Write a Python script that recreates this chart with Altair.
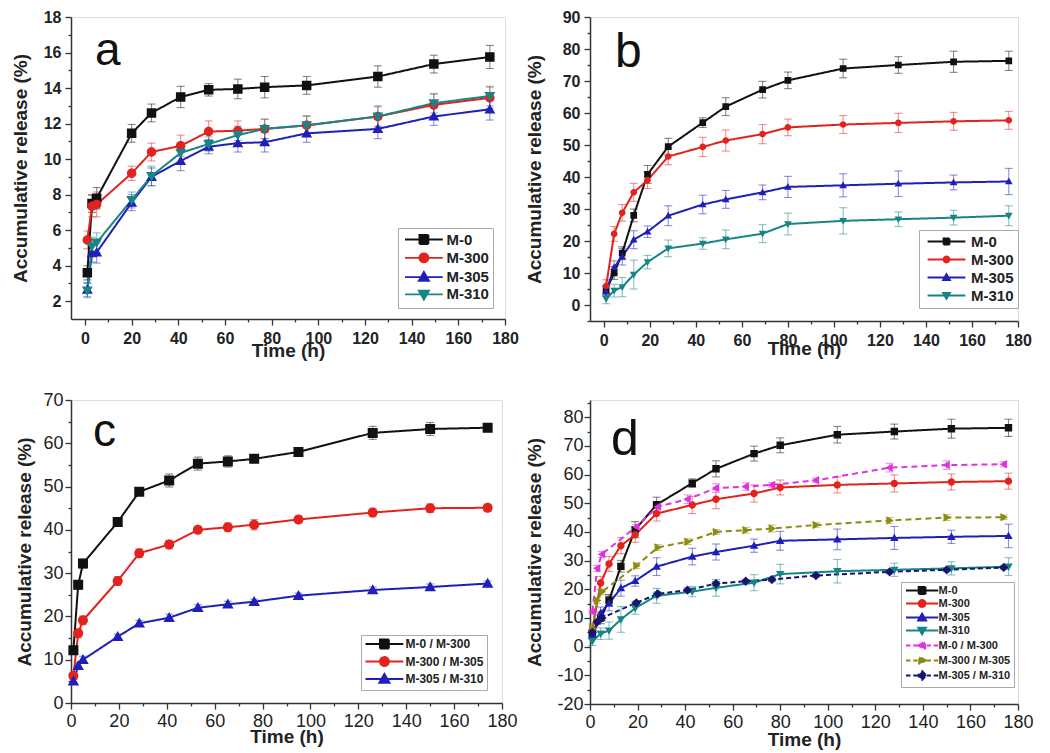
import altair as alt
import pandas as pd

FONT = "Liberation Sans"

# ---------------- data ----------------
names_single = ["M-0", "M-300", "M-305", "M-310"]
names_ratio = ["M-0 / M-300", "M-300 / M-305", "M-305 / M-310"]

# panel a
time_a = [1, 3, 5, 20, 28.5, 41, 53, 65.5, 77, 95, 125.5, 149.5, 173.5]
a_m0 = [3.6, 7.5, 7.8, 11.45, 12.6, 13.5, 13.9, 13.95, 14.05, 14.15, 14.65, 15.35, 15.75]
a_m300 = [5.45, 7.35, 7.45, 9.2, 10.4, 10.75, 11.55, 11.6, 11.7, 11.9, 12.4, 13.05, 13.45]
a_m305 = [2.65, 4.7, 4.75, 7.55, 9.0, 9.9, 10.7, 10.9, 10.95, 11.45, 11.7, 12.4, 12.8]
a_m310 = [2.6, 5.1, 5.3, 7.7, 9.05, 10.35, 10.85, 11.35, 11.7, 11.9, 12.4, 13.15, 13.55]
err_a_m0 = [0.4, 0.5, 0.6, 0.5, 0.5, 0.6, 0.35, 0.55, 0.6, 0.5, 0.6, 0.5, 0.65]
err_a_m300 = [0.5, 0.6, 0.7, 0.4, 0.5, 0.6, 0.6, 0.55, 0.55, 0.5, 0.55, 0.6, 0.6]
err_a_m305 = [0.4, 0.5, 0.6, 0.45, 0.5, 0.55, 0.4, 0.5, 0.55, 0.5, 0.55, 0.5, 0.6]
err_a_m310 = [0.4, 0.5, 0.55, 0.45, 0.55, 0.55, 0.4, 0.5, 0.55, 0.55, 0.6, 0.55, 0.55]

# panel b (also the solid series of panel d)
time_b = [1, 4.5, 8, 13, 19, 28, 43, 53, 69, 80, 104, 128, 152, 176]
b_m0 = [4.5, 10, 16.2, 28, 40.8, 49.5, 57, 62, 67.3, 70.2, 73.9, 75, 76, 76.3]
b_m300 = [5.9, 22.2, 28.8, 35.2, 39, 46.4, 49.4, 51.4, 53.4, 55.5, 56.4, 56.9, 57.4, 57.7]
b_m305 = [4.2, 11.8, 15.1, 20.4, 22.9, 27.9, 31.4, 33, 35.2, 36.9, 37.4, 37.9, 38.3, 38.6]
b_m310 = [1.9, 4.5, 5.6, 9.5, 13.4, 17.7, 19.2, 20.5, 22.3, 25.3, 26.3, 26.8, 27.3, 27.9]
err_b_m0 = [1.5, 2.0, 2.0, 2.0, 2.8, 2.6, 1.5, 2.8, 2.6, 2.6, 2.9, 2.6, 3.3, 3.0]
err_b_m300 = [2.0, 2.3, 2.6, 2.8, 2.6, 2.6, 3.0, 3.3, 3.0, 2.6, 2.8, 3.0, 2.8, 2.8]
err_b_m305 = [1.5, 2.0, 2.6, 2.8, 1.8, 3.1, 2.9, 2.8, 2.3, 3.3, 3.6, 4.0, 2.3, 4.1]
err_b_m310 = [1.5, 2.0, 3.0, 4.5, 2.1, 2.6, 1.8, 2.9, 2.8, 3.4, 4.1, 2.3, 2.3, 3.1]

# panel c (also the dashed series of panel d)
time_c = [1, 3, 5, 19.5, 28.5, 41, 53, 65.5, 76.5, 95, 126, 150, 174]
c_m0_300 = [12.2, 27.3, 32.2, 41.8, 48.8, 51.4, 55.3, 55.8, 56.4, 58.0, 62.4, 63.3, 63.6]
c_m300_305 = [6.3, 16.1, 19.1, 28.2, 34.6, 36.6, 40.0, 40.6, 41.2, 42.4, 44.0, 45.0, 45.1]
c_m305_310 = [5.0, 8.6, 10.0, 15.3, 18.4, 19.7, 22.0, 22.8, 23.4, 24.8, 26.1, 26.8, 27.6]
err_c_m0_300 = [0.8, 1.0, 1.0, 0.8, 0.8, 1.5, 1.5, 1.3, 0.8, 0.8, 1.5, 1.5, 0.9]
err_c_m300_305 = [0.8, 1.0, 1.0, 1.0, 1.0, 1.0, 0.8, 1.0, 1.2, 0.8, 1.0, 1.0, 0.8]
err_c_m305_310 = [0.6, 0.8, 0.8, 0.6, 0.7, 0.8, 0.7, 0.7, 0.6, 0.6, 0.7, 0.7, 0.6]

# ---------------- styles ----------------
BLACK, RED, BLUE, TEAL = "#111111", "#e2231d", "#2020b8", "#178585"
MAGENTA, OLIVE, NAVY = "#e033e0", "#8c8c10", "#16166e"
MARK = {"square": "M-1,-1L1,-1L1,1L-1,1Z",
        "circle": "M1,0A1,1,0,1,1,-1,0A1,1,0,1,1,1,0Z",
        "tri-up": "M0,-1.15L1.15,0.85L-1.15,0.85Z",
        "tri-down": "M0,1.15L1.15,-0.85L-1.15,-0.85Z",
        "tri-left": "M-1.15,0L0.85,-1.15L0.85,1.15Z",
        "tri-right": "M1.15,0L-0.85,-1.15L-0.85,1.15Z",
        "diamond": "M0,-1.25L1.25,0L0,1.25L-1.25,0Z"}


def long_df(times, names, values, errors):
    rows = []
    for name, vals, errs in zip(names, values, errors):
        for t, v, e in zip(times, vals, errs):
            rows.append({"series": name, "t": t, "v": v, "lo": v - e, "hi": v + e})
    return pd.DataFrame(rows)


df_a = long_df(time_a, names_single, [a_m0, a_m300, a_m305, a_m310],
               [err_a_m0, err_a_m300, err_a_m305, err_a_m310])
df_b = long_df(time_b, names_single, [b_m0, b_m300, b_m305, b_m310],
               [err_b_m0, err_b_m300, err_b_m305, err_b_m310])
df_c = long_df(time_c, names_ratio, [c_m0_300, c_m300_305, c_m305_310],
               [err_c_m0_300, err_c_m300_305, err_c_m305_310])
df_d = pd.concat([df_b, df_c], ignore_index=True)


def sym(marker, L, dashed=False):
    if dashed:
        line = (f"M{-L},0L{-0.72*L},0M{-0.55*L},0L{-0.28*L},0"
                f"M{0.28*L},0L{0.55*L},0M{0.72*L},0L{L},0")
    else:
        line = f"M{-L},0L{L},0"
    return line + MARK[marker]


def axis(title, values, major, cfg, which):
    return alt.Axis(
        title=title, values=values,
        labelExpr=f"datum.value % {major} === 0 ? '' + datum.value : ''",
        tickSize={"condition": {"test": f"datum.value % {major} !== 0", "value": 3}, "value": 6},
        tickColor="#333", tickWidth=1.3, domainColor="#333", domainWidth=1.5,
        grid=False, labelOverlap=False, labelFlush=False,
        labelFont=FONT, labelFontSize=cfg["lsize"], labelFontWeight=cfg["lweight"],
        labelColor="#222", labelPadding=cfg[which + "lp"],
        titleFont=FONT, titleFontSize=19, titleFontWeight="bold", titleColor="#222",
        titlePadding=cfg[which + "tp"])


def panel(df, names, cols, shapes, dashes, cfg):
    xs = alt.Scale(domain=cfg["xdom"], nice=False, zero=False)
    ys = alt.Scale(domain=cfg["ydom"], nice=False, zero=False)
    xa = axis("Time (h)", cfg["xvals"], cfg["xmajor"], cfg, "x")
    ya = axis("Accumulative release (%)", cfg["yvals"], cfg["ymajor"], cfg, "y")
    color_plain = alt.Color("series:N", scale=alt.Scale(domain=names, range=cols))
    leg = alt.Legend(orient="none", legendX=cfg["legx"], legendY=cfg["legy"], title=None,
                     symbolSize=cfg["ssize"], symbolStrokeWidth=1.8, symbolOpacity=1,
                     symbolOffset=cfg["soff"], labelOffset=cfg["loff"],
                     labelFont=FONT, labelFontSize=cfg["legfs"], labelFontWeight="bold",
                     labelColor="#222", strokeColor="#aaa", fillColor="white",
                     padding=cfg["legpad"], rowPadding=cfg["rowpad"])
    base = alt.Chart(df)
    err = base.mark_rule(strokeWidth=1.1, opacity=1).encode(
        x=alt.X("t:Q", scale=xs, axis=xa), y=alt.Y("lo:Q", scale=ys, axis=ya),
        y2="hi:Q", color=color_plain, strokeOpacity=alt.value(0.5))
    cap_lo = base.mark_tick(orient="horizontal", size=8, thickness=1.1, opacity=1).encode(
        x=alt.X("t:Q", scale=xs, axis=xa), y=alt.Y("lo:Q", scale=ys, axis=ya), color=color_plain,
        fillOpacity=alt.value(0.5))
    cap_hi = base.mark_tick(orient="horizontal", size=8, thickness=1.1, opacity=1).encode(
        x=alt.X("t:Q", scale=xs, axis=xa), y=alt.Y("hi:Q", scale=ys, axis=ya), color=color_plain,
        fillOpacity=alt.value(0.5))
    line = base.mark_line(strokeWidth=2, opacity=1).encode(
        x=alt.X("t:Q", scale=xs, axis=xa), y=alt.Y("v:Q", scale=ys, axis=ya),
        color=color_plain,
        strokeDash=alt.StrokeDash("series:N", scale=alt.Scale(domain=names, range=dashes), legend=None))
    pts = base.mark_point(filled=True, size=cfg["psize"], opacity=1).encode(
        x=alt.X("t:Q", scale=xs, axis=xa), y=alt.Y("v:Q", scale=ys, axis=ya),
        color=alt.Color("series:N", scale=alt.Scale(domain=names, range=cols), legend=leg),
        stroke=alt.Stroke("series:N", scale=alt.Scale(domain=names, range=cols), legend=leg),
        shape=alt.Shape("series:N", scale=alt.Scale(domain=names, range=shapes), legend=leg),
        strokeWidth=alt.value(0))
    txt = alt.Chart(pd.DataFrame({"label": [cfg["letter"]]})).mark_text(
        align="left", baseline="alphabetic", font=FONT, fontSize=cfg["letfs"], color="#111").encode(
        text="label:N", x=alt.value(cfg["letx"]), y=alt.value(cfg["lety"]))
    return alt.layer(err, cap_lo, cap_hi, line, pts, txt).properties(
        width=cfg["w"], height=cfg["h"])


base_cfg = dict(xvals=list(range(0, 181, 10)), xmajor=20)

cfg_a = dict(base_cfg, xdom=[-6, 180], ydom=[1, 18], yvals=list(range(2, 19)), ymajor=2,
             w=434, h=302, lsize=16, lweight="bold", xlp=5, ylp=4, xtp=-5, ytp=13,
             legx=327, legy=211, ssize=81, soff=14.4, loff=15, legfs=15, legpad=4, rowpad=1.3,
             psize=90, letter="a", letfs=46, letx=24, lety=48)
L_a = 4.2
shapes_a = [sym(m, L_a) for m in ["square", "circle", "tri-up", "tri-down"]]

cfg_b = dict(base_cfg, xdom=[-6, 180], ydom=[-5, 90], yvals=list(range(-5, 91, 5)), ymajor=10,
             w=428, h=304, lsize=16, lweight="bold", xlp=5, ylp=4, xtp=-9, ytp=18,
             legx=329, legy=213, ssize=36, soff=16, loff=17, legfs=15, legpad=4, rowpad=2,
             psize=45, letter="b", letfs=48, letx=25, lety=50)
L_b = 6.3
shapes_b = [sym(m, L_b) for m in ["square", "circle", "tri-up", "tri-down"]]

cfg_c = dict(base_cfg, xdom=[0, 180], ydom=[0, 70], yvals=list(range(0, 71, 5)), ymajor=10,
             w=431, h=303, lsize=18, lweight="normal", xlp=3, ylp=2, xtp=-3, ytp=8,
             legx=290, legy=235, ssize=81, soff=14.4, loff=15, legfs=12, legpad=3, rowpad=-0.5,
             psize=100, letter="c", letfs=46, letx=22, lety=46)
L_c = 4.2
shapes_c = [sym(m, L_c) for m in ["square", "circle", "tri-up"]]

cfg_d = dict(base_cfg, xdom=[0, 180], ydom=[-20, 86], yvals=list(range(-20, 86, 5)), ymajor=10,
             w=428, h=304, lsize=18, lweight="normal", xlp=3, ylp=1, xtp=-1, ytp=12,
             legx=311, legy=182, ssize=49, soff=12.6, loff=11, legfs=11, legpad=3, rowpad=-2,
             psize=55, letter="d", letfs=50, letx=21, lety=55)
L_d = 4.6
shapes_d = ([sym(m, L_d) for m in ["square", "circle", "tri-up", "tri-down"]] +
            [sym(m, L_d, dashed=True) for m in ["tri-left", "tri-right", "diamond"]])

solid = [1, 0]
pa = panel(df_a, names_single, [BLACK, RED, BLUE, TEAL], shapes_a, [solid] * 4, cfg_a)
pb = panel(df_b, names_single, [BLACK, RED, BLUE, TEAL], shapes_b, [solid] * 4, cfg_b)
pc = panel(df_c, names_ratio, [BLACK, RED, BLUE], shapes_c, [solid] * 3, cfg_c)
pd_ = panel(df_d, names_single + names_ratio,
            [BLACK, RED, BLUE, TEAL, MAGENTA, OLIVE, NAVY], shapes_d,
            [solid] * 4 + [[6, 4], [6, 4], [5, 3]], cfg_d)

chart = alt.concat(pa, pb, pc, pd_, columns=2, spacing={"row": 79, "column": 85},
                   bounds="flush").resolve_scale(
    x="independent", y="independent", color="independent", stroke="independent",
    shape="independent", strokeDash="independent"
).resolve_legend(
    color="independent", stroke="independent", shape="independent", strokeDash="independent"
).properties(
    padding={"left": 2, "top": 0, "right": 0, "bottom": 0}
).configure_view(stroke="#333", strokeWidth=1.5).configure(background="white")

chart.save("out.html", embed_options={"renderer": "svg", "actions": False})
